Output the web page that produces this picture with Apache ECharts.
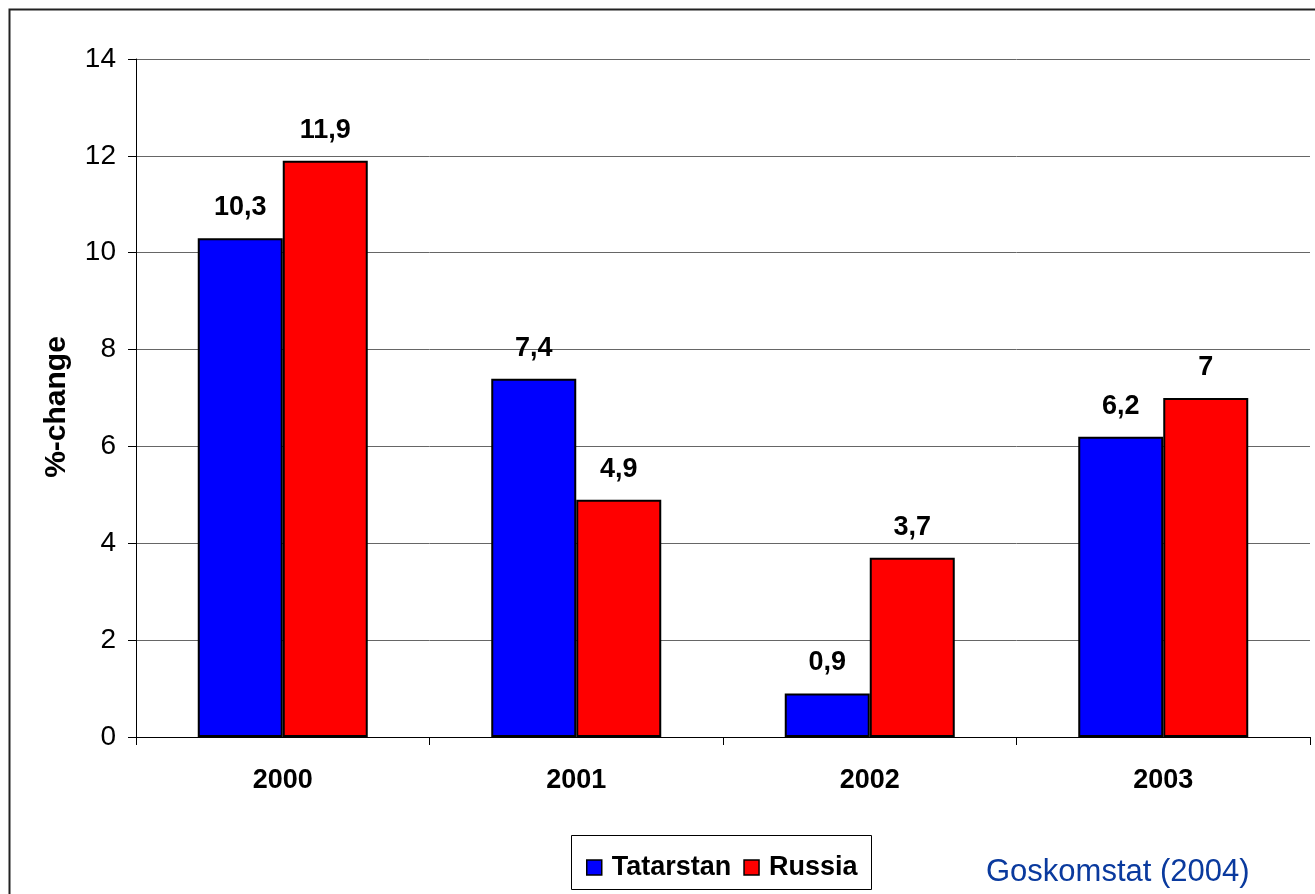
<!DOCTYPE html>
<html><head><meta charset="utf-8">
<script src="https://cdn.jsdelivr.net/npm/echarts@6/dist/echarts.min.js"></script>
<style>html,body{margin:0;padding:0;background:#fff}#c{width:1315px;height:894px}</style>
</head><body><div id="c"></div>
<script>
const categories = ['2000', '2001', '2002', '2003'];
const tatarstan = [10.3, 7.4, 0.9, 6.2];
const russia = [11.9, 4.9, 3.7, 7];
const seriesNames = ['Tatarstan', 'Russia'];
const yAxisName = '%-change';
const sourceText = 'Goskomstat (2004)';

const chart = echarts.init(document.getElementById('c'), null, {renderer: 'canvas'});
const font = '"Liberation Sans", Arial, sans-serif';
const lbl = {
  show: true, position: 'top', distance: 17,
  fontFamily: font, fontSize: 27, fontWeight: 'bold', color: '#000',
  formatter: p => String(p.value).replace('.', ',')
};
chart.setOption({
  animation: false,
  backgroundColor: '#fff',
  graphic: [
    {type: 'rect', shape: {x: 9.5, y: 9.5, width: 1400, height: 1000}, style: {fill: 'none', stroke: '#222', lineWidth: 2}, z: 0},
    {type: 'rect', shape: {x: 571.5, y: 835.5, width: 300, height: 54}, style: {fill: '#fff', stroke: '#000', lineWidth: 1}, z: 1},
    {type: 'text', left: 986, top: 857, style: {text: sourceText, fill: '#0a3a9e', font: '31px ' + font}, z: 5}
  ],
  grid: {left: 136, top: 59, right: 5, bottom: 157, containLabel: false},
  legend: {
    left: 581, top: 849, itemWidth: 15, itemHeight: 15, itemGap: 12,
    icon: 'rect',
    textStyle: {fontFamily: font, fontSize: 27, fontWeight: 'bold', color: '#000', padding: [0, 0, 0, 5]},
    itemStyle: {borderColor: '#000', borderWidth: 1.5},
    data: seriesNames
  },
  xAxis: {
    type: 'category', data: categories,
    axisLine: {show: true, lineStyle: {color: '#000', width: 1}},
    axisTick: {show: true, alignWithLabel: false, length: 8, lineStyle: {color: '#000'}},
    axisLabel: {fontFamily: font, fontSize: 27, fontWeight: 'bold', color: '#000', margin: 30}
  },
  yAxis: {
    type: 'value', min: 0, max: 14, interval: 2,
    name: yAxisName, nameLocation: 'middle', nameGap: 64, nameRotate: 90,
    nameTextStyle: {fontFamily: font, fontSize: 30, fontWeight: 'bold', color: '#000', padding: [0, 18, 0, 0]},
    axisLine: {show: true, lineStyle: {color: '#000', width: 1}},
    axisTick: {show: true, length: 8, lineStyle: {color: '#000'}},
    axisLabel: {fontFamily: font, fontSize: 28, color: '#000', margin: 20},
    splitLine: {show: true, lineStyle: {color: '#666', width: 1}}
  },
  series: [
    {name: seriesNames[0], type: 'bar', data: tatarstan, barWidth: 85, barGap: '0%',
     itemStyle: {color: '#0000ff', borderColor: '#000', borderWidth: 2}, label: lbl},
    {name: seriesNames[1], type: 'bar', data: russia, barWidth: 85, barGap: '0%',
     itemStyle: {color: '#ff0000', borderColor: '#000', borderWidth: 2}, label: lbl}
  ]
});
</script></body></html>
